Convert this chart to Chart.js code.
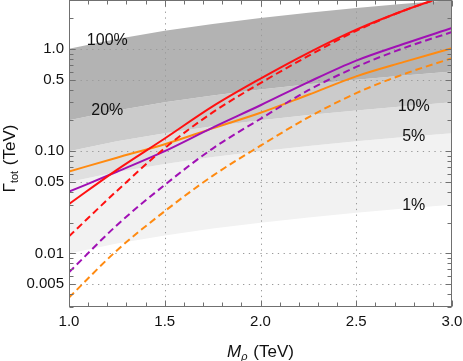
<!DOCTYPE html>
<html><head><meta charset="utf-8">
<script src="https://cdn.jsdelivr.net/npm/chart.js@4"></script>
<style>html,body{margin:0;padding:0;background:#fff}#wrap{width:463px;height:361px;position:relative}</style>
</head><body><div id="wrap"><canvas id="c" width="463" height="361"></canvas></div>
<script>
// ---- data ----
const masses = [1.0, 1.25, 1.5, 1.75, 2.0, 2.25, 2.5, 2.75, 3.0];
const redSolid     = [0.0304, 0.0657, 0.133, 0.274, 0.512, 0.914, 1.54, 2.37, 3.45];
const redDashed    = [0.0147, 0.0409, 0.107, 0.239, 0.463, 0.853, 1.50, 2.37, 3.40];
const purpleSolid  = [0.0402, 0.0629, 0.100, 0.170, 0.281, 0.473, 0.767, 1.12, 1.60];
const purpleDashed = [0.00655, 0.0189, 0.0468, 0.106, 0.207, 0.394, 0.665, 1.02, 1.46];
const orangeSolid  = [0.0633, 0.0863, 0.117, 0.167, 0.237, 0.356, 0.538, 0.745, 1.016];
const orangeDashed = [0.00371, 0.0107, 0.0259, 0.0574, 0.113, 0.214, 0.369, 0.567, 0.810];
// width bands: Gamma = fraction * M
const bandFractions = [1.0, 0.2, 0.1, 0.05, 0.01];
const bandLabels = ['100%', '20%', '10%', '5%', '1%'];
const bandLabelM = [1.2, 1.2, 2.8, 2.8, 2.8];
const bandLabelG = [1.2, 0.25, 0.275, 0.139, 0.0297];
const xTicks = [1.0, 1.5, 2.0, 2.5, 3.0];
const xTickLabels = ['1.0', '1.5', '2.0', '2.5', '3.0'];
const yTicks = [0.005, 0.01, 0.05, 0.1, 0.5, 1.0];
const yTickLabels = ['0.005', '0.01', '0.05', '0.10', '0.5', '1.0'];

const FONT = "'Liberation Sans', Arial, Helvetica, sans-serif";
const bandColors = ['#b3b3b3', '#cbcbcb', '#e0e0e0', '#f2f2f2'];

function pts(arr) { return masses.map((m, i) => ({x: m, y: arr[i]})); }

const datasets = [];
bandFractions.forEach((f, i) => {
  datasets.push({
    data: masses.map(m => ({x: m, y: f * m})),
    borderColor: 'transparent', borderWidth: 0, pointRadius: 0,
    fill: i < bandFractions.length - 1 ? '+1' : false,
    backgroundColor: bandColors[i] || 'transparent'
  });
});
function curve(arr, color, dashed) {
  return { data: pts(arr), borderColor: color, borderWidth: 2, pointRadius: 0, fill: false,
           borderDash: dashed ? [7, 4] : [], cubicInterpolationMode: 'monotone' };
}
const RED = '#ff1010', PURPLE = '#a010b4', ORANGE = '#ff8a10';
datasets.push(curve(redSolid, RED, false));
datasets.push(curve(redDashed, RED, true));
datasets.push(curve(purpleSolid, PURPLE, false));
datasets.push(curve(purpleDashed, PURPLE, true));
datasets.push(curve(orangeSolid, ORANGE, false));
datasets.push(curve(orangeDashed, ORANGE, true));

const overlay = {
  id: 'overlay',
  beforeDatasetsDraw(chart) {
    const {ctx, chartArea: a, scales: {x, y}} = chart;
    ctx.save();
    ctx.strokeStyle = '#9a9a9a'; ctx.lineWidth = 1; ctx.setLineDash([1.3, 4.5]);
    xTicks.forEach(v => {
      if (v <= x.min || v >= x.max) return;
      const px = Math.round(x.getPixelForValue(v)) + 0.5;
      ctx.beginPath(); ctx.moveTo(px, a.top); ctx.lineTo(px, a.bottom); ctx.stroke();
    });
    yTicks.forEach(v => {
      const py = Math.round(y.getPixelForValue(v)) + 0.5;
      ctx.beginPath(); ctx.moveTo(a.left, py); ctx.lineTo(a.right, py); ctx.stroke();
    });
    ctx.restore();
  },
  afterDatasetsDraw(chart) {
    const {ctx, chartArea: a, scales: {x, y}} = chart;
    ctx.save();
    // band labels
    ctx.fillStyle = '#111'; ctx.font = '16px ' + FONT;
    ctx.textAlign = 'center'; ctx.textBaseline = 'middle';
    bandLabels.forEach((t, i) => {
      ctx.fillText(t, x.getPixelForValue(bandLabelM[i]), y.getPixelForValue(bandLabelG[i]));
    });
    // frame
    ctx.strokeStyle = '#707070'; ctx.lineWidth = 1; ctx.setLineDash([]);
    const L = Math.round(a.left) + 0.5, R = Math.round(a.right) - 0.5;
    const T = Math.round(a.top) + 0.5, B = Math.round(a.bottom) - 0.5;
    ctx.strokeRect(L, T, R - L, B - T);
    ctx.beginPath();
    for (let k = 0; k <= 20; k++) {
      const v = 1 + k * 0.1;
      const px = Math.round(x.getPixelForValue(v)) + 0.5;
      const len = (k % 5 === 0) ? 6 : 4;
      ctx.moveTo(px, B); ctx.lineTo(px, B - len);
      ctx.moveTo(px, T); ctx.lineTo(px, T + len);
    }
    for (let e = -3; e <= 0; e++) {
      for (let k = 1; k <= 9; k++) {
        const v = k * Math.pow(10, e);
        if (v < y.min || v > y.max) continue;
        const py = Math.round(y.getPixelForValue(v)) + 0.5;
        const major = yTicks.some(t => Math.abs(t - v) / t < 1e-6);
        const len = major ? 6 : 4;
        ctx.moveTo(L, py); ctx.lineTo(L + len, py);
        ctx.moveTo(R, py); ctx.lineTo(R - len, py);
      }
    }
    ctx.stroke();
    ctx.restore();
  },
  afterDraw(chart) {
    const {ctx, chartArea: a} = chart;
    ctx.save();
    ctx.fillStyle = '#111'; ctx.textBaseline = 'alphabetic'; ctx.textAlign = 'left';
    // x title: M_rho (TeV)
    const big = '17px ' + FONT, ibig = 'italic 17px ' + FONT, ismall = 'italic 11px ' + FONT, small = '11px ' + FONT;
    ctx.font = ibig; const wM = ctx.measureText('M').width;
    ctx.font = ismall; const wr = ctx.measureText('ρ').width;
    ctx.font = big; const wt = ctx.measureText(' (TeV)').width;
    let x0 = (a.left + a.right) / 2 - (wM + wr + 1 + wt) / 2;
    const yb = 357;
    ctx.font = ibig; ctx.fillText('M', x0, yb); x0 += wM;
    ctx.font = ismall; ctx.fillText('ρ', x0, yb + 3); x0 += wr + 1;
    ctx.font = big; ctx.fillText(' (TeV)', x0, yb);
    // y title: Gamma_tot (TeV)
    ctx.font = big; const wG = ctx.measureText('Γ').width; const wT = ctx.measureText(' (TeV)').width;
    ctx.font = small; const ws = ctx.measureText('tot').width;
    const total = wG + ws + 1 + wT;
    ctx.translate(15, (a.top + a.bottom) / 2 + 5);
    ctx.rotate(-Math.PI / 2);
    let s = -total / 2;
    ctx.font = big; ctx.fillText('Γ', s, 0); s += wG;
    ctx.font = small; ctx.fillText('tot', s, 3); s += ws + 1;
    ctx.font = big; ctx.fillText(' (TeV)', s, 0);
    ctx.restore();
  }
};

new Chart(document.getElementById('c'), {
  type: 'line',
  data: { datasets },
  plugins: [overlay],
  options: {
    responsive: false, animation: false, devicePixelRatio: 1,
    layout: { padding: { left: 0, right: 11, top: 0, bottom: 0 } },
    plugins: { legend: { display: false }, tooltip: { enabled: false }, filler: { drawTime: 'beforeDatasetsDraw' } },
    elements: { point: { radius: 0 } },
    scales: {
      x: {
        type: 'linear', min: 1, max: 3,
        afterBuildTicks: s => { s.ticks = xTicks.map(v => ({ value: v })); },
        afterFit: s => { s.height = 54; s.paddingLeft = 0; s.paddingRight = 0; },
        grid: { display: false, drawTicks: false }, border: { display: false },
        ticks: { padding: 6, autoSkip: false, maxRotation: 0, color: '#111',
                 font: { family: FONT, size: 15 }, callback: (v, i) => xTickLabels[i] }
      },
      y: {
        type: 'logarithmic', min: 0.003, max: 3,
        afterBuildTicks: s => { s.ticks = yTicks.map(v => ({ value: v })); },
        afterFit: s => { s.width = 69; s.paddingTop = 0; s.paddingBottom = 0; },
        grid: { display: false, drawTicks: false }, border: { display: false },
        ticks: { padding: 5, autoSkip: false, color: '#111',
                 font: { family: FONT, size: 15 }, callback: (v, i) => yTickLabels[i] }
      }
    }
  }
});
</script></body></html>
